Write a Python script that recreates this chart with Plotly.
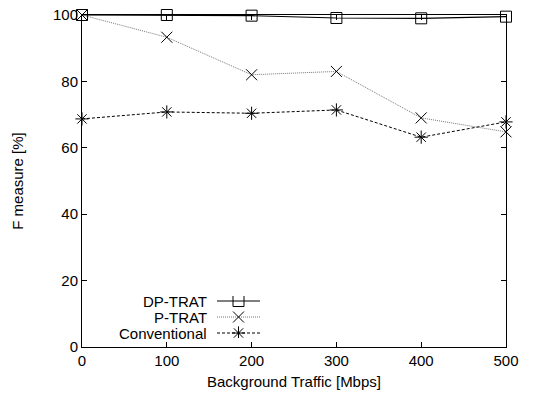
import plotly.graph_objects as go

x_vals = [0, 100, 200, 300, 400, 500]
dp_trat = [100, 100, 99.8, 99.1, 99.0, 99.5]
p_trat = [100, 93.3, 82.0, 83.0, 69.0, 64.8]
conventional = [68.7, 70.8, 70.4, 71.4, 63.2, 67.8]
series_names = ["DP-TRAT", "P-TRAT", "Conventional"]
x_ticks = [0, 100, 200, 300, 400, 500]
y_ticks = [0, 20, 40, 60, 80, 100]

styles = [
    dict(color="black", dash="solid", symbol="square-open", width=1.2),
    dict(color="#777777", dash="1px,1px", symbol="x-thin-open", width=1),
    dict(color="black", dash="3px,2px", symbol="asterisk-open", width=1),
]
font = "Liberation Sans, Arial, Helvetica, sans-serif"
FS = 15
LFS = 15
MS = 11

L, T, R, B = 82, 15, 48, 53
W, H = 554, 400
PW, PH = W - L - R, H - T - B

fig = go.Figure()
for name, ys, st in zip(series_names, [dp_trat, p_trat, conventional], styles):
    fig.add_trace(go.Scatter(
        x=x_vals, y=ys, mode="lines+markers", name=name,
        line=dict(color=st["color"], dash=st["dash"], width=st["width"]),
        marker=dict(symbol=st["symbol"], size=MS, color="black",
                    line=dict(color="black", width=1)),
        showlegend=False, cliponaxis=False,
    ))

# custom legend (gnuplot style: text on left, sample on right)
leg_rows_px = [301, 317, 333]          # window pixel rows
box_top, box_bot = 296, 338
for name, st, rp in zip(series_names, styles, leg_rows_px):
    ly = (box_bot - rp) / (box_bot - box_top)
    fig.add_trace(go.Scatter(
        x=[0, 0.5, 1], y=[ly, ly, ly], xaxis="x2", yaxis="y2",
        mode="lines", line=dict(color=st["color"], dash=st["dash"], width=st["width"]),
        showlegend=False, hoverinfo="skip",
    ))
    fig.add_trace(go.Scatter(
        x=[0.5], y=[ly], xaxis="x2", yaxis="y2", mode="markers",
        marker=dict(symbol=st["symbol"], size=MS, color="black",
                    line=dict(color="black", width=1)),
        showlegend=False, hoverinfo="skip",
    ))
    fig.add_annotation(
        x=(208 - L) / PW, y=(H - B - rp) / PH, xref="paper", yref="paper",
        text=name, showarrow=False, xanchor="right", yanchor="middle",
        height=14, valign="middle", borderpad=0,
        font=dict(family=font, size=LFS, color="black"),
    )

axis_common = dict(
    showline=True, linecolor="black", linewidth=1, mirror="ticks",
    ticks="inside", ticklen=5, tickcolor="black", showgrid=False,
    zeroline=False, ticklabeloverflow="allow",
    tickfont=dict(family=font, size=FS, color="black"),
)
fig.update_layout(
    width=W, height=H,
    margin=dict(l=L, r=R, t=T, b=B, autoexpand=False),
    paper_bgcolor="white", plot_bgcolor="white",
    xaxis=dict(range=[0, 500], tickvals=x_ticks, automargin=False,
               title=dict(text="Background Traffic [Mbps]", standoff=8,
                          font=dict(family=font, size=FS, color="black")),
               **axis_common),
    yaxis=dict(range=[0, 100], tickvals=y_ticks, automargin=False,
               title=dict(text="F measure [%]", standoff=25,
                          font=dict(family=font, size=FS, color="black")),
               **axis_common),
    xaxis2=dict(domain=[(217 - L) / PW, (260 - L) / PW], range=[0, 1],
                visible=False, anchor="y2"),
    yaxis2=dict(domain=[(H - B - box_bot) / PH, (H - B - box_top) / PH], range=[0, 1],
                visible=False, anchor="x2"),
)
fig.write_html("out.html", config={"displayModeBar": False})

# remove the default page margin so the figure fills the window exactly
with open("out.html", "r", encoding="utf-8") as f:
    html = f.read()
html = html.replace("<body>", '<body style="margin:0;padding:0;overflow:hidden">', 1)
with open("out.html", "w", encoding="utf-8") as f:
    f.write(html)
